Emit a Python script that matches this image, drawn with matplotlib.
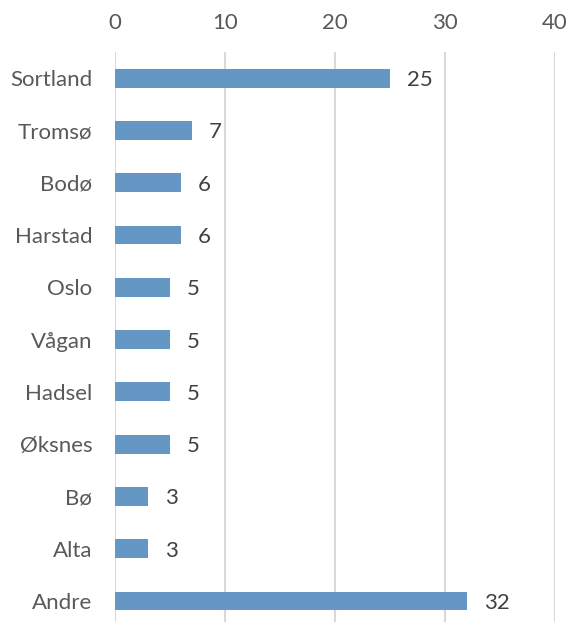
import matplotlib.pyplot as plt

places = ["Sortland", "Tromsø", "Bodø", "Harstad", "Oslo", "Vågan",
          "Hadsel", "Øksnes", "Bø", "Alta", "Andre"]
counts = [25, 7, 6, 6, 5, 5, 5, 5, 3, 3, 32]
xticks = [0, 10, 20, 30, 40]

BAR = "#6497c4"
TEXT = "#595959"
GRID = "#d9d9d9"
FS = 16

plt.rcParams["font.family"] = ["Lato", "DejaVu Sans"]

fig = plt.figure(figsize=(5.7, 6.22), dpi=100)
ax = fig.add_axes([114.5 / 570, 0, (555 - 114.5) / 570, 570 / 622])

rows = list(range(len(places)))
ax.barh(rows, counts, height=0.36, color=BAR, zorder=3)
for r, v in zip(rows, counts):
    ax.annotate(str(v), (v, r), xytext=(17, -2), textcoords="offset pixels",
                va="center", ha="left", fontsize=FS, color="#404040")

ax.set_xlim(0, 40)
ax.set_ylim(10.40, -0.5)
ax.set_xticks(xticks)
ax.set_yticks(rows)
ax.set_yticklabels(places)
ax.xaxis.tick_top()
ax.tick_params(axis="both", length=0, labelsize=FS, labelcolor=TEXT)
ax.tick_params(axis="y", pad=16)
ax.tick_params(axis="x", pad=14)
ax.grid(axis="x", color=GRID, linewidth=1.5, zorder=0)
for s in ax.spines.values():
    s.set_visible(False)

fig.savefig("out.png", facecolor="white")
